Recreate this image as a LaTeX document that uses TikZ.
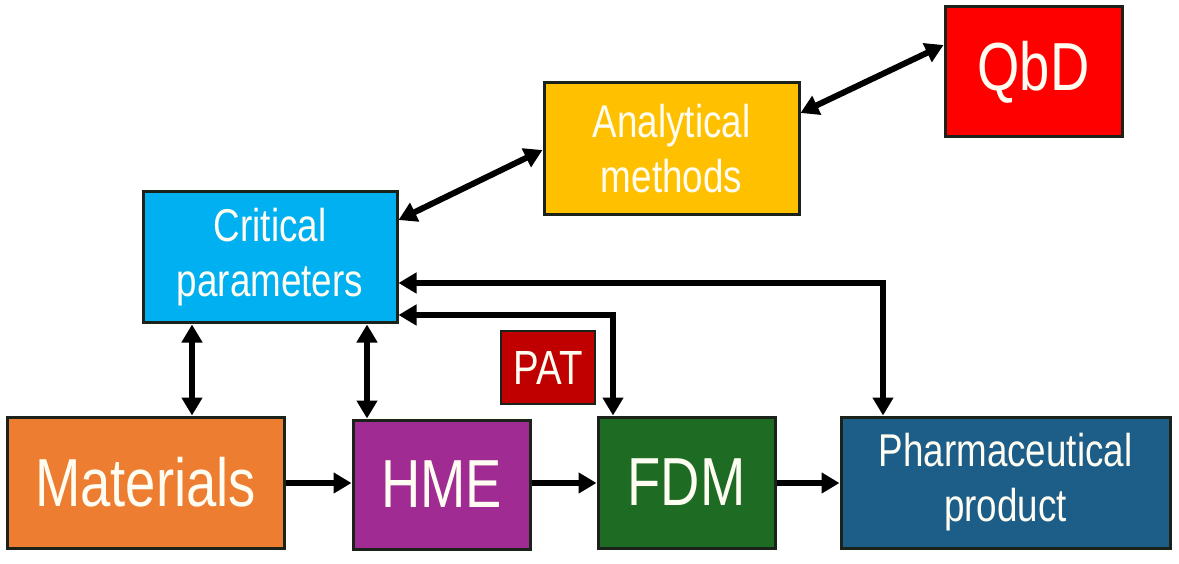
\documentclass[tikz,border=0pt]{standalone}
\usepackage{fontspec}
\newfontfamily\nf[FakeStretch=0.8]{Liberation Sans}
\usetikzlibrary{arrows.meta}
\definecolor{cMat}{HTML}{ED7D31}
\definecolor{cHme}{HTML}{A02B93}
\definecolor{cFdm}{HTML}{1E6B24}
\definecolor{cPh}{HTML}{1D5E88}
\definecolor{cCrit}{HTML}{00B0F0}
\definecolor{cAn}{HTML}{FFC000}
\definecolor{cQbd}{HTML}{FF0000}
\definecolor{cPat}{HTML}{C00000}
\definecolor{cBord}{HTML}{1A221A}
\definecolor{cTxt}{HTML}{FFFDF2}
\tikzset{
  box/.style={draw=cBord, line width=3pt, text=cTxt, align=center, inner sep=0pt},
  bigtxt/.style={font=\nf\fontsize{68}{80}\selectfont},
  midtxt/.style={font=\nf\fontsize{46}{55}\selectfont},
  pattxt/.style={font=\nf\fontsize{48}{55}\selectfont},
  tipA/.tip={Triangle[length=18pt,width=20pt]},
  arr/.style={line width=6pt, draw=black, -tipA},
  darr/.style={line width=6pt, draw=black, tipA-tipA},
}
\begin{document}
\begin{tikzpicture}[x=1pt,y=-1pt]
\useasboundingbox[fill=white] (0,0) rectangle (1179,564);
\node[box, bigtxt, fill=cMat, minimum width=277pt, minimum height=131pt] (mat) at (145.5,482.5) {Materials};
\node[box, bigtxt, fill=cHme, minimum width=177pt, minimum height=129pt] (hme) at (441.5,484.5) {HME};
\node[box, bigtxt, fill=cFdm, minimum width=177pt, minimum height=131pt] (fdm) at (686.5,482.5) {FDM};
\node[box, midtxt, fill=cPh, minimum width=329pt, minimum height=131pt] (ph) at (1005.5,482.5) {Pharmaceutical\\product};
\node[box, midtxt, fill=cCrit, minimum width=254pt, minimum height=131pt] (crit) at (270,257.5) {Critical\\parameters};
\node[box, midtxt, fill=cAn, minimum width=255pt, minimum height=132pt] (an) at (671.5,149) {Analytical\\methods};
\node[box, bigtxt, fill=cQbd, minimum width=177pt, minimum height=130pt] (qbd) at (1033.5,72) {QbD};
\node[box, pattxt, fill=cPat, minimum width=94pt, minimum height=73pt, line width=2pt] (pat) at (548,367.5) {PAT};

\coordinate (yh) at (0,483);
\coordinate (x1) at (192,0);
\coordinate (x2) at (367,0);
\coordinate (x3) at (613,0);
\coordinate (x4) at (883,0);
\coordinate (y3) at (0,315);
\coordinate (y4) at (0,283);
\coordinate (ya) at (0,220);
\coordinate (yb) at (0,150);
\coordinate (yc) at (0,113);
\coordinate (yd) at (0,45);

\draw[arr] (mat.east |- yh) -- (hme.west |- yh);
\draw[arr] (hme.east |- yh) -- (fdm.west |- yh);
\draw[arr] (fdm.east |- yh) -- (ph.west |- yh);
\draw[darr] (crit.south -| x1) -- (mat.north -| x1);
\draw[darr] (crit.south -| x2) -- (hme.north -| x2);
\draw[darr] (crit.east |- y3) -- (x3 |- y3) -- (fdm.north -| x3);
\draw[darr] (crit.east |- y4) -- (x4 |- y4) -- (ph.north -| x4);
\draw[darr] (crit.east |- ya) -- (an.west |- yb);
\draw[darr] (an.east |- yc) -- (qbd.west |- yd);
\end{tikzpicture}
\end{document}
